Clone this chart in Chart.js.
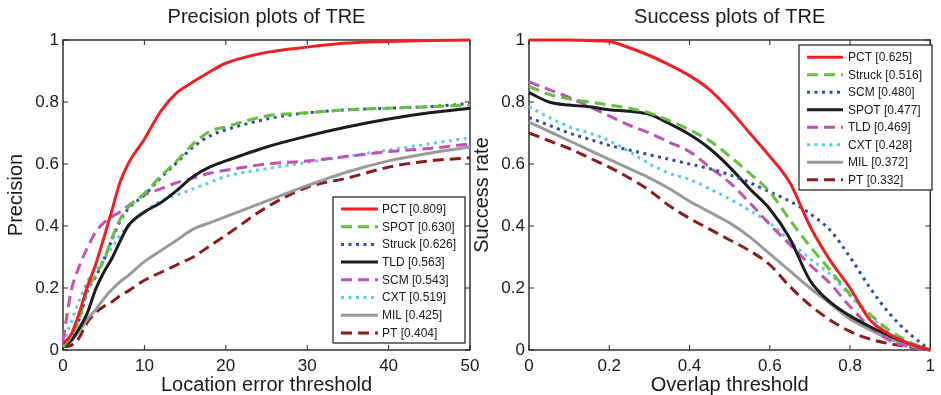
<!DOCTYPE html>
<html>
<head>
<meta charset="utf-8">
<script src="https://cdn.jsdelivr.net/npm/chart.js@4/dist/chart.umd.min.js"></script>
<style>
  body { margin: 0; background: #fff; }
  #wrap { position: relative; width: 941px; height: 395px; }
  #wrap canvas { position: absolute; left: 0; top: 0; }
</style>
</head>
<body>
<div id="wrap">
  <canvas id="precision-chart" width="941" height="395"></canvas>
  <canvas id="success-chart" width="941" height="395"></canvas>
</div>
<script>
// Precision plot (location error threshold, pixels)
const precX = [0, 1, 2, 3, 4, 5, 6, 7, 8, 10, 12, 14, 16, 18, 20, 25, 30, 35, 40, 45, 50];
const precLabels = ['PCT [0.809]', 'SPOT [0.630]', 'Struck [0.626]', 'TLD [0.563]',
                    'SCM [0.543]', 'CXT [0.519]', 'MIL [0.425]', 'PT [0.404]'];
const precPCT    = [0.02, 0.05, 0.12, 0.205, 0.275, 0.36, 0.45, 0.54, 0.60, 0.68, 0.77, 0.83, 0.865, 0.897, 0.925, 0.96, 0.977, 0.99, 0.995, 0.998, 1.0];
const precSPOT   = [0.01, 0.045, 0.1, 0.195, 0.24, 0.29, 0.36, 0.42, 0.46, 0.505, 0.56, 0.61, 0.665, 0.705, 0.72, 0.755, 0.765, 0.775, 0.78, 0.785, 0.79];
const precStruck = [0.01, 0.045, 0.1, 0.19, 0.235, 0.29, 0.355, 0.415, 0.455, 0.5, 0.555, 0.605, 0.655, 0.69, 0.71, 0.745, 0.765, 0.775, 0.78, 0.785, 0.795];
const precTLD    = [0.01, 0.03, 0.07, 0.12, 0.195, 0.25, 0.295, 0.35, 0.4, 0.445, 0.475, 0.515, 0.56, 0.59, 0.61, 0.655, 0.69, 0.72, 0.745, 0.765, 0.78];
const precSCM    = [0.03, 0.19, 0.27, 0.33, 0.38, 0.41, 0.43, 0.445, 0.465, 0.5, 0.52, 0.54, 0.555, 0.57, 0.58, 0.6, 0.61, 0.625, 0.64, 0.65, 0.665];
const precCXT    = [0.02, 0.09, 0.16, 0.22, 0.26, 0.29, 0.33, 0.37, 0.4, 0.445, 0.48, 0.5, 0.52, 0.54, 0.56, 0.585, 0.605, 0.625, 0.645, 0.665, 0.685];
const precMIL    = [0.01, 0.03, 0.06, 0.1, 0.13, 0.165, 0.195, 0.22, 0.24, 0.285, 0.32, 0.355, 0.39, 0.41, 0.43, 0.48, 0.53, 0.575, 0.61, 0.635, 0.655];
const precPT     = [0.01, 0.015, 0.04, 0.09, 0.12, 0.14, 0.155, 0.175, 0.19, 0.225, 0.25, 0.275, 0.3, 0.335, 0.37, 0.46, 0.525, 0.555, 0.59, 0.61, 0.62];

// Success plot (overlap threshold)
const succX = [0, 0.05, 0.1, 0.15, 0.2, 0.25, 0.3, 0.35, 0.4, 0.45, 0.5, 0.55, 0.6, 0.65, 0.7, 0.75, 0.8, 0.85, 0.9, 0.95, 1];
const succLabels = ['PCT [0.625]', 'Struck [0.516]', 'SCM [0.480]', 'SPOT [0.477]',
                    'TLD [0.469]', 'CXT [0.428]', 'MIL [0.372]', 'PT [0.332]'];
const succPCT    = [1.0, 1.0, 1.0, 0.998, 0.995, 0.975, 0.95, 0.92, 0.885, 0.84, 0.775, 0.70, 0.625, 0.54, 0.40, 0.29, 0.2, 0.097, 0.05, 0.02, 0];
const succStruck = [0.85, 0.825, 0.81, 0.80, 0.79, 0.78, 0.765, 0.74, 0.71, 0.675, 0.625, 0.57, 0.51, 0.42, 0.335, 0.258, 0.18, 0.115, 0.062, 0.025, 0];
const succSCM    = [0.75, 0.725, 0.70, 0.68, 0.66, 0.645, 0.63, 0.615, 0.60, 0.585, 0.565, 0.54, 0.51, 0.48, 0.44, 0.387, 0.30, 0.2, 0.115, 0.05, 0];
const succSPOT   = [0.83, 0.80, 0.79, 0.785, 0.775, 0.77, 0.76, 0.73, 0.695, 0.65, 0.59, 0.52, 0.455, 0.36, 0.225, 0.155, 0.11, 0.075, 0.045, 0.02, 0];
const succTLD    = [0.865, 0.84, 0.815, 0.785, 0.755, 0.725, 0.70, 0.67, 0.64, 0.59, 0.54, 0.475, 0.405, 0.34, 0.275, 0.215, 0.14, 0.075, 0.03, 0.01, 0];
const succCXT    = [0.785, 0.75, 0.72, 0.70, 0.675, 0.64, 0.60, 0.57, 0.55, 0.52, 0.487, 0.45, 0.41, 0.35, 0.295, 0.245, 0.175, 0.11, 0.05, 0.015, 0];
const succMIL    = [0.735, 0.705, 0.675, 0.645, 0.615, 0.585, 0.555, 0.52, 0.48, 0.445, 0.41, 0.365, 0.31, 0.255, 0.2, 0.15, 0.1, 0.065, 0.035, 0.015, 0];
const succPT     = [0.70, 0.675, 0.65, 0.62, 0.59, 0.555, 0.515, 0.465, 0.425, 0.39, 0.355, 0.32, 0.275, 0.205, 0.145, 0.097, 0.06, 0.035, 0.02, 0.01, 0];

// line style by rank (same order in both legends)
const rankStyles = [
  { color: '#ee1f25', dash: [] },
  { color: '#66bf40', dash: [11, 6] },
  { color: '#2b4fa5', dash: [3, 4.5] },
  { color: '#1c1c1c', dash: [] },
  { color: '#c152b1', dash: [11, 6] },
  { color: '#5dcbe0', dash: [3, 4.5] },
  { color: '#9a9a9a', dash: [] },
  { color: '#8b1b1e', dash: [11, 6] }
];

const FONT = '"Liberation Sans", Arial, sans-serif';
Chart.defaults.font.family = FONT;
Chart.defaults.color = '#1a1a1a';

// MATLAB style numbers: 0, 0.2, 1
const plainTick = v => String(Math.round(v * 10) / 10);

// box + inward tick marks like the MATLAB axes
const matlabFrame = {
  id: 'matlabFrame',
  beforeDatasetsDraw(chart) {
    const { ctx, chartArea: a } = chart;
    const len = 5;
    ctx.save();
    ctx.strokeStyle = '#262626';
    ctx.lineWidth = 1.4;
    ctx.strokeRect(a.left, a.top, a.right - a.left, a.bottom - a.top);
    ctx.lineWidth = 1;
    ctx.beginPath();
    chart.scales.x.ticks.forEach(t => {
      const px = chart.scales.x.getPixelForValue(t.value);
      ctx.moveTo(px, a.bottom); ctx.lineTo(px, a.bottom - len);
      ctx.moveTo(px, a.top); ctx.lineTo(px, a.top + len);
    });
    chart.scales.y.ticks.forEach(t => {
      const py = chart.scales.y.getPixelForValue(t.value);
      ctx.moveTo(a.left, py); ctx.lineTo(a.left + len, py);
      ctx.moveTo(a.right, py); ctx.lineTo(a.right - len, py);
    });
    ctx.stroke();
    ctx.restore();
  }
};

// legend box drawn inside the plot area
const boxLegend = {
  id: 'boxLegend',
  afterDatasetsDraw(chart, args, o) {
    const ctx = chart.ctx;
    ctx.save();
    ctx.fillStyle = '#fff';
    ctx.fillRect(o.left, o.top, o.width, o.height);
    ctx.strokeStyle = '#1a1a1a';
    ctx.lineWidth = 1.2;
    ctx.strokeRect(o.left, o.top, o.width, o.height);
    ctx.font = '12px ' + FONT;
    ctx.textBaseline = 'middle';
    chart.data.datasets.forEach((ds, i) => {
      const y = o.firstRow + i * o.rowGap;
      ctx.strokeStyle = ds.borderColor;
      ctx.lineWidth = ds.borderWidth;
      ctx.setLineDash(ds.borderDash);
      ctx.beginPath();
      ctx.moveTo(o.sampleLeft, y);
      ctx.lineTo(o.sampleRight, y);
      ctx.stroke();
      ctx.setLineDash([]);
      ctx.fillStyle = '#1a1a1a';
      ctx.fillText(ds.label, o.textLeft, y + 0.5);
    });
    ctx.restore();
  }
};

function buildDatasets(xs, labels, series) {
  return series.map((ys, i) => ({
    label: labels[i],
    data: xs.map((x, j) => ({ x: x, y: ys[j] })),
    borderColor: rankStyles[i].color,
    borderDash: rankStyles[i].dash,
    borderWidth: 3,
    borderCapStyle: 'butt',
    pointRadius: 0,
    cubicInterpolationMode: 'monotone',
    clip: 4,
    fill: false
  }));
}

function makeChart(id, cfg) {
  return new Chart(document.getElementById(id), {
    type: 'line',
    data: { datasets: cfg.datasets },
    options: {
      responsive: false,
      animation: false,
      devicePixelRatio: 1,
      events: [],
      layout: { padding: { left: cfg.padLeft, right: cfg.padRight, top: 0, bottom: 0 } },
      plugins: {
        legend: { display: false },
        tooltip: { enabled: false },
        title: {
          display: true,
          text: cfg.title,
          fullSize: false,
          color: '#1a1a1a',
          font: { size: 20, weight: 'normal', lineHeight: 1.2 },
          padding: { top: 5, bottom: 11 }
        },
        boxLegend: cfg.legend
      },
      scales: {
        x: {
          type: 'linear',
          min: 0,
          max: cfg.xMax,
          grid: { display: false, drawTicks: false },
          border: { display: false },
          ticks: { stepSize: cfg.xStep, padding: 6, font: { size: 17 }, color: '#1a1a1a', maxRotation: 0, callback: plainTick },
          title: { display: true, text: cfg.xTitle, font: { size: 20, lineHeight: 1 }, padding: { top: 0, bottom: 0 }, color: '#1a1a1a' },
          afterFit: s => { s.height = 45; }
        },
        y: {
          min: 0,
          max: 1,
          grid: { display: false, drawTicks: false },
          border: { display: false },
          ticks: { stepSize: 0.2, padding: 4, font: { size: 17 }, color: '#1a1a1a', callback: plainTick },
          title: { display: true, text: cfg.yTitle, font: { size: 20, lineHeight: 1.2 }, padding: { top: cfg.yTitlePad, bottom: 0 }, color: '#1a1a1a' },
          afterFit: s => { s.width = cfg.yWidth; }
        }
      }
    },
    plugins: [matlabFrame, boxLegend]
  });
}

makeChart('precision-chart', {
  datasets: buildDatasets(precX, precLabels,
    [precPCT, precSPOT, precStruck, precTLD, precSCM, precCXT, precMIL, precPT]),
  title: 'Precision plots of TRE',
  xTitle: 'Location error threshold',
  yTitle: 'Precision',
  xMax: 50, xStep: 10,
  padLeft: 0, padRight: 471, yWidth: 63, yTitlePad: 4,
  legend: { left: 333, top: 197, width: 132, height: 146, firstRow: 209, rowGap: 17.7,
            sampleLeft: 341, sampleRight: 378, textLeft: 382 }
});

makeChart('success-chart', {
  datasets: buildDatasets(succX, succLabels,
    [succPCT, succStruck, succSCM, succSPOT, succTLD, succCXT, succMIL, succPT]),
  title: 'Success plots of TRE',
  xTitle: 'Overlap threshold',
  yTitle: 'Success rate',
  xMax: 1, xStep: 0.2,
  padLeft: 470, padRight: 6, yWidth: 59, yTitlePad: 0,
  legend: { left: 799, top: 45, width: 133, height: 145, firstRow: 57.3, rowGap: 17.5,
            sampleLeft: 807, sampleRight: 843, textLeft: 848 }
});
</script>
</body>
</html>
